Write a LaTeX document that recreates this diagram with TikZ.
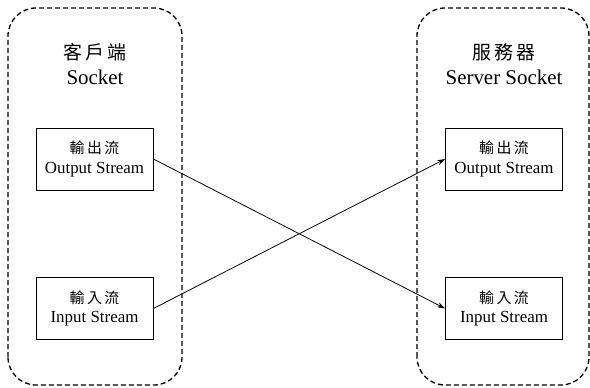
\documentclass[tikz,border=0pt]{standalone}
\usepackage{fontspec}
\setmainfont{Liberation Serif}
\newfontfamily\cjk{Noto Sans CJK TC}
\usetikzlibrary{arrows.meta}

\tikzset{
  container/.style={draw, dash pattern=on 5bp off 3bp, line width=1.3bp, rounded corners=28bp},
  streambox/.style={draw, line width=0.8bp, minimum width=117bp, minimum height=62bp,
    inner sep=0pt, align=center, font=\fontsize{17}{20}\selectfont},
  sockettitle/.style={align=center, font=\fontsize{21}{25}\selectfont},
  link/.style={line width=0.8bp, -{Stealth[length=8bp,width=5bp]}}
}

\begin{document}
\begin{tikzpicture}[x=1bp,y=1bp]
    \useasboundingbox (0,0) rectangle (590,387);

    % Contenedores de cada lado
    \draw[container] (8,2) rectangle (182,379);
    \draw[container] (417,2) rectangle (589,379);

    % Titulos
    \node[sockettitle] (client) at (95,322.5) {{\cjk\fontsize{19}{25}\selectfont 客\,戶\,端}\\Socket};
    \node[sockettitle] (server) at (504,322.5) {{\cjk\fontsize{19}{25}\selectfont 服\,務\,器}\\Server Socket};

    % Flujos
    \node[streambox] (cout) at (94.5,228) {{\cjk\fontsize{15}{20}\selectfont 輸\,出\,流}\\Output Stream};
    \node[streambox] (cin) at (94.5,78.5) {{\cjk\fontsize{15}{20}\selectfont 輸\,入\,流}\\Input Stream};
    \node[streambox] (sout) at (504,228) {{\cjk\fontsize{15}{20}\selectfont 輸\,出\,流}\\Output Stream};
    \node[streambox] (sin) at (504,78.5) {{\cjk\fontsize{15}{20}\selectfont 輸\,入\,流}\\Input Stream};

    % Conexiones
    \draw[link] (cout.east) -- (sin.west);
    \draw[link] (cin.east) -- (sout.west);
\end{tikzpicture}
\end{document}
